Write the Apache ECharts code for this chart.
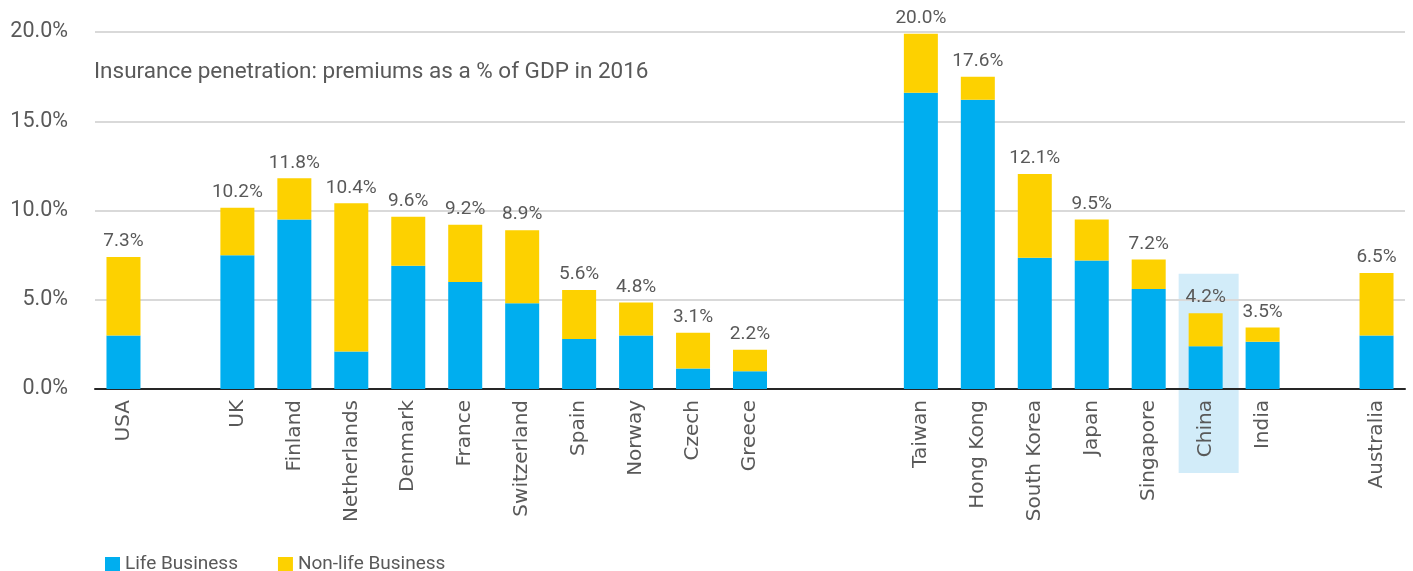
<!DOCTYPE html>
<html>
<head>
<meta charset="utf-8">
<script src="https://cdn.jsdelivr.net/npm/echarts@6/dist/echarts.min.js"></script>
<style>
  html, body { margin: 0; padding: 0; background: #fff; }
  #chart { width: 1413px; height: 571px; }
</style>
</head>
<body>
<div id="chart"></div>
<script>
// empty slots ('', ' ', ...) keep the gaps between country groups
const categories = ['USA', '', 'UK', 'Finland', 'Netherlands', 'Denmark', 'France', 'Switzerland', 'Spain', 'Norway', 'Czech', 'Greece',
  ' ', '  ', 'Taiwan', 'Hong Kong', 'South Korea', 'Japan', 'Singapore', 'China', 'India', '   ', 'Australia'];
const lifeBusiness = [3.0, null, 7.5, 9.5, 2.1, 6.9, 6.0, 4.8, 2.8, 3.0, 1.15, 1.0,
  null, null, 16.6, 16.2, 7.35, 7.2, 5.6, 2.4, 2.65, null, 3.0];
const nonLifeBusiness = [4.4, null, 2.65, 2.3, 8.3, 2.75, 3.2, 4.1, 2.75, 1.85, 2.0, 1.2,
  null, null, 3.3, 1.3, 4.7, 2.3, 1.65, 1.85, 0.8, null, 3.5];
const totalLabels = ['7.3%', '', '10.2%', '11.8%', '10.4%', '9.6%', '9.2%', '8.9%', '5.6%', '4.8%', '3.1%', '2.2%',
  '', '', '20.0%', '17.6%', '12.1%', '9.5%', '7.2%', '4.2%', '3.5%', '', '6.5%'];
const highlighted = 'China';

const narrow = 'Roboto, sans-serif';
const grey = '#595959';

const charts = echarts.init(document.getElementById('chart'));
const option = {
  animation: false,
  title: {
    text: 'Insurance penetration: premiums as a % of GDP in 2016',
    left: 89,
    top: 56,
    textStyle: { color: grey, fontSize: 22.5, fontWeight: 'normal', fontFamily: narrow }
  },
  legend: {
    left: 100,
    top: 550,
    icon: 'rect',
    itemWidth: 15,
    itemHeight: 15,
    itemGap: 40,
    textStyle: { color: grey, fontSize: 19, fontFamily: narrow }
  },
  grid: { left: 95, right: 8, top: 32, bottom: 182 },
  xAxis: {
    type: 'category',
    data: categories,
    axisLine: { lineStyle: { color: '#262626', width: 2 } },
    axisTick: { show: false },
    axisLabel: {
      interval: 0,
      rotate: 90,
      margin: 11,
      color: grey,
      fontSize: 20,
      fontFamily: '"DejaVu Sans", sans-serif'
    }
  },
  yAxis: {
    type: 'value',
    min: 0,
    max: 20,
    interval: 5,
    axisLine: { show: false },
    axisTick: { show: false },
    axisLabel: {
      margin: 27,
      color: grey,
      fontSize: 21.5,
      fontFamily: narrow,
      formatter: v => v.toFixed(1) + '%'
    },
    splitLine: { lineStyle: { color: '#d9d9d9', width: 2 } }
  },
  series: [
    {
      name: 'Life Business',
      type: 'bar',
      stack: 'total',
      barWidth: 34,
      data: lifeBusiness,
      itemStyle: { color: '#00aeef' }
    },
    {
      name: 'Non-life Business',
      type: 'bar',
      stack: 'total',
      barWidth: 34,
      data: nonLifeBusiness,
      itemStyle: { color: '#fdd100' },
      label: {
        show: true,
        position: 'top',
        distance: 6,
        color: grey,
        fontSize: 19,
        fontFamily: narrow,
        formatter: p => totalLabels[p.dataIndex]
      }
    }
  ]
};
charts.setOption(option);

// light blue box behind the highlighted country, placed through the axes
const cx = charts.convertToPixel({ xAxisIndex: 0 }, highlighted);
const yTop = charts.convertToPixel({ yAxisIndex: 0 }, 6.45);
const yZero = charts.convertToPixel({ yAxisIndex: 0 }, 0);
charts.setOption({
  graphic: [{
    type: 'rect',
    z: -10,
    shape: { x: cx - 27, y: yTop, width: 60, height: yZero + 84 - yTop },
    style: { fill: '#d2ecf9' }
  }]
});
</script>
</body>
</html>
